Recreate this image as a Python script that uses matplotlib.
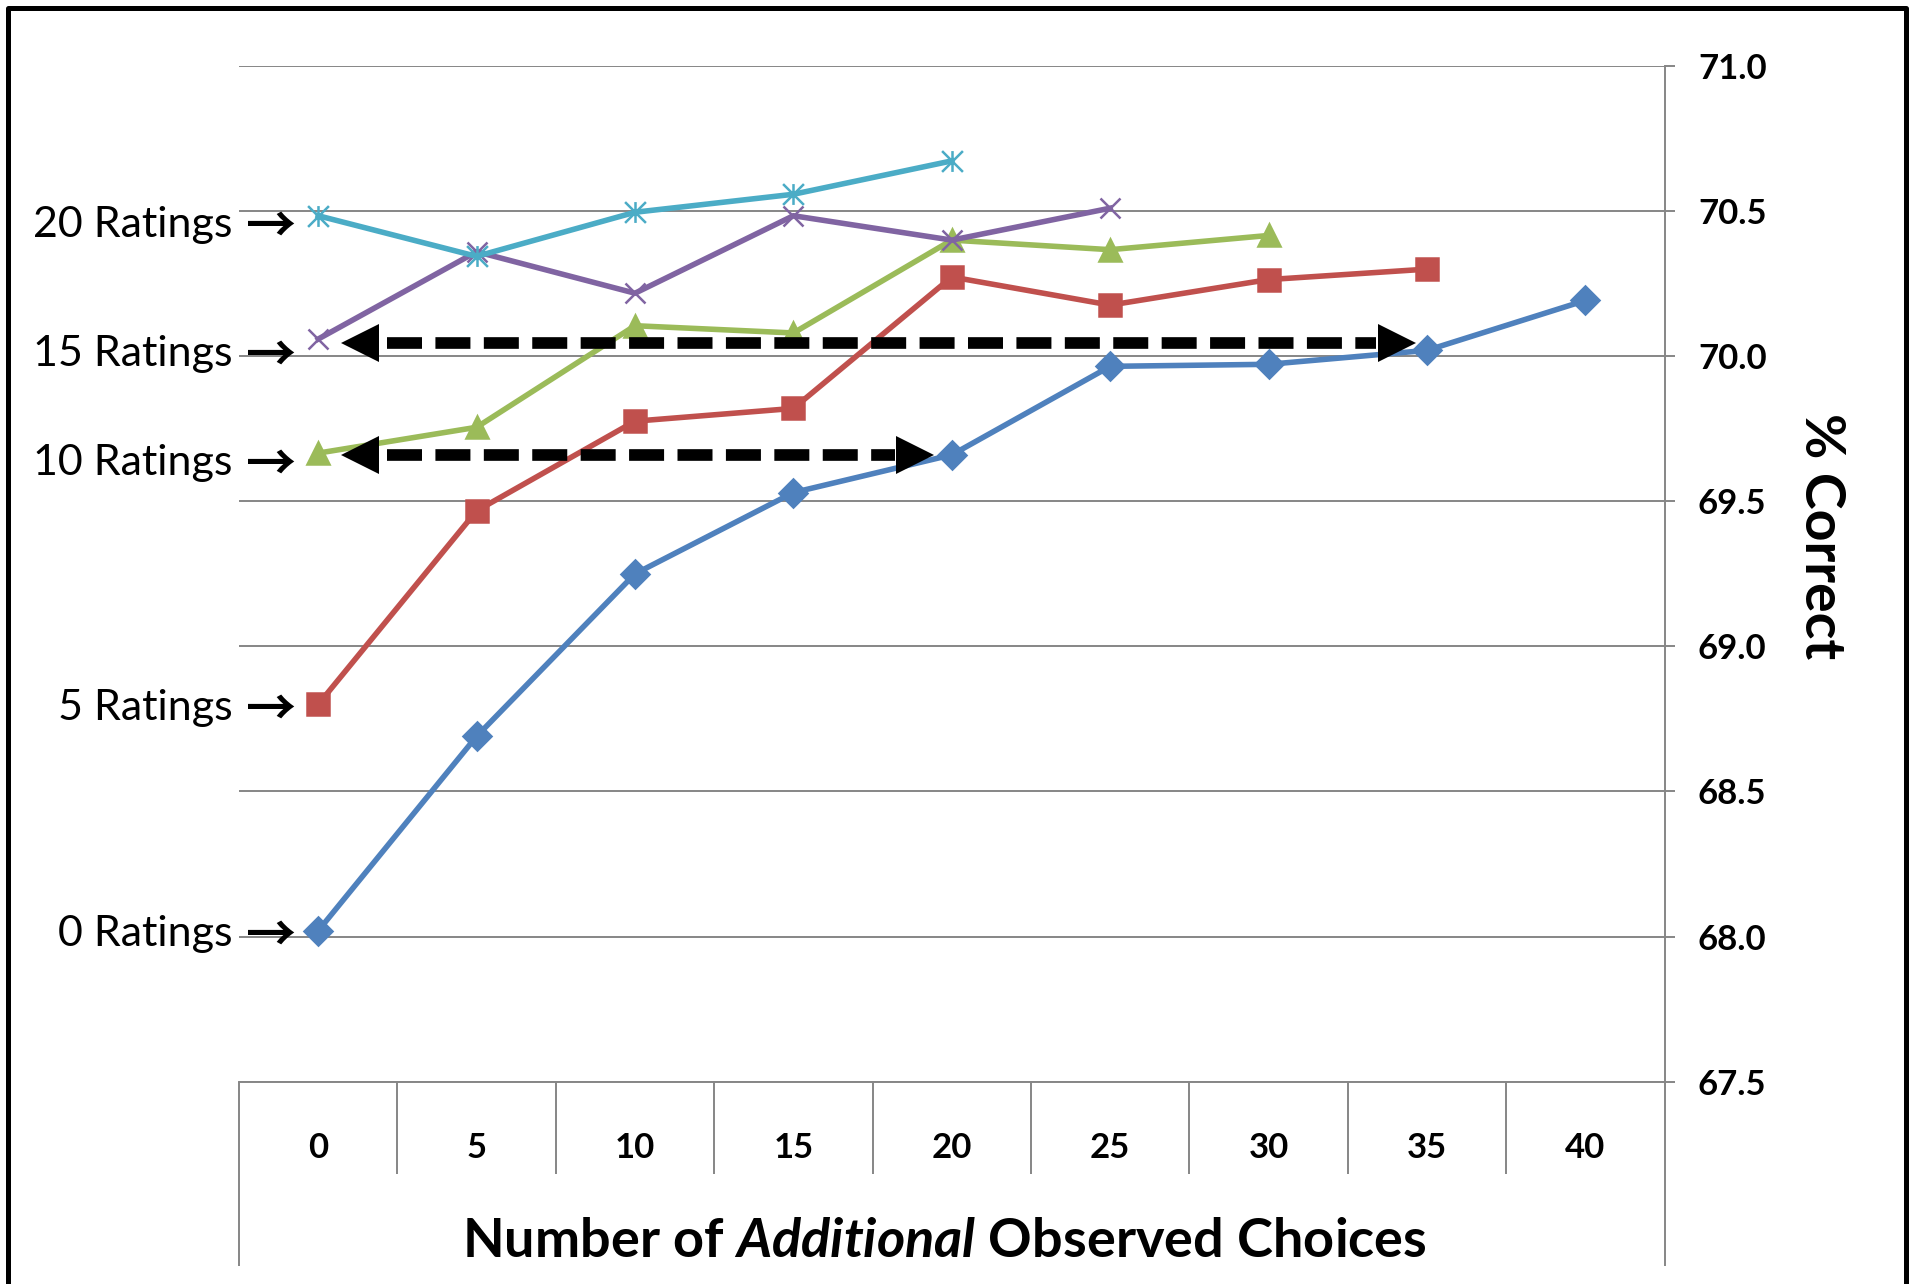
import numpy as np
import matplotlib
matplotlib.use('Agg')
import matplotlib.pyplot as plt
from matplotlib.path import Path
from matplotlib.lines import Line2D

plt.rcParams['font.family'] = ['Lato', 'DejaVu Sans']
plt.rcParams['mathtext.fontset'] = 'custom'
plt.rcParams['mathtext.it'] = 'Lato:italic:bold'
plt.rcParams['mathtext.rm'] = 'Lato:bold'

# number of additional observed choices (categories)
choices = [0, 5, 10, 15, 20, 25, 30, 35, 40]

# % correct for each starting number of ratings
pct_0_ratings = [68.02, 68.69, 69.25, 69.53, 69.66, 69.965, 69.972, 70.02, 70.192]
pct_5_ratings = [68.80, 69.467, 69.776, 69.82, 70.273, 70.176, 70.264, 70.30]
pct_10_ratings = [69.666, 69.755, 70.105, 70.08, 70.40, 70.367, 70.416]
pct_15_ratings = [70.059, 70.36, 70.217, 70.484, 70.40, 70.51]
pct_20_ratings = [70.484, 70.344, 70.496, 70.558, 70.673]

series_labels = ['0 Ratings', '5 Ratings', '10 Ratings', '15 Ratings', '20 Ratings']
series_values = [pct_0_ratings, pct_5_ratings, pct_10_ratings, pct_15_ratings, pct_20_ratings]
# height of the side labels pointing at each series start
label_level = [68.02, 68.80, 69.645, 70.02, 70.465]

# dashed "equivalence" arrows: level and start/end in observed choices
arrow_level = [70.045, 69.66]
arrow_from = [0.78, 0.78]
arrow_to = [34.6, 19.4]

y_ticks = [67.5, 68.0, 68.5, 69.0, 69.5, 70.0, 70.5, 71.0]

# asterisk marker (X with a vertical bar)
asterisk = Path([(-1, -1), (1, 1), (-1, 1), (1, -1), (0, -1), (0, 1)],
                [Path.MOVETO, Path.LINETO] * 3)

colors = ['#4F81BD', '#C0504D', '#9BBB59', '#8064A2', '#4BACC6']
markers = ['D', 's', '^', 'x', asterisk]
msizes = [14, 15.5, 16, 15, 15]
grid_col = '#868686'

fig = plt.figure(figsize=(19.12, 12.84), dpi=100)
ax = fig.add_axes([0.125, 0.1576, 0.7456, 0.7910])

for i in range(len(series_values)):
    vals = series_values[i]
    xs = np.array(choices[:len(vals)]) / 5.0
    ax.plot(xs, vals, color=colors[i], lw=4.0, marker=markers[i], ms=msizes[i],
            mew=1.8, mec=colors[i], mfc=colors[i], zorder=3 + i, clip_on=False)
    ax.text(-0.54, label_level[i], series_labels[i], ha='right', va='center_baseline',
            fontsize=31, clip_on=False)
    ax.text(-0.30, label_level[i], '\u2192', ha='center', va='center_baseline',
            fontsize=36, fontweight='bold', family=['Noto Sans CJK JP', 'DejaVu Sans'],
            clip_on=False)

# arrows: dashed shaft with solid triangle heads
head = 0.22
for y, a, b in zip(arrow_level, arrow_from, arrow_to):
    x0, x1 = a / 5.0, b / 5.0
    ax.plot([x0 + head + 0.06, x1 - head - 0.02], [y, y], color='k', lw=8.4,
            dashes=(3.0, 1.15), solid_capstyle='butt', dash_capstyle='butt', zorder=10)
    ax.plot([x0 + head / 2], [y], marker='<', ms=27, color='k', mew=0, zorder=10)
    ax.plot([x1 - head / 2], [y], marker='>', ms=27, color='k', mew=0, zorder=10)

ax.set_xlim(-0.5, 8.5)
ax.set_ylim(67.5, 71.0)

ax.yaxis.tick_right()
ax.set_yticks(y_ticks)
ax.set_yticklabels(['%.1f' % v for v in y_ticks], fontsize=25, fontweight='bold')
ax.tick_params(axis='y', length=7, width=1.4, color=grid_col, pad=17)
ax.yaxis.grid(True, color=grid_col, lw=1.4)
ax.set_axisbelow(True)

ax.set_xticks(range(len(choices)))
ax.set_xticklabels([str(c) for c in choices], fontsize=25, fontweight='bold')
ax.tick_params(axis='x', length=0, pad=36)

for side in ['top', 'left']:
    ax.spines[side].set_visible(False)
for side in ['right', 'bottom']:
    ax.spines[side].set_color(grid_col)
    ax.spines[side].set_linewidth(1.4)

# category boxes below the plot
trans = ax.get_xaxis_transform()
ax.vlines([k - 0.5 for k in range(1, len(choices))], -0.091, 0, transform=trans,
          colors=grid_col, lw=1.4, clip_on=False)
ax.vlines([-0.5, len(choices) - 0.5], -0.1817, 0, transform=trans,
          colors=grid_col, lw=1.4, clip_on=False)

ax.set_xlabel(r'Number of $\mathit{Additional}$ Observed Choices', fontsize=39,
              fontweight='bold')
ax.xaxis.set_label_coords(0.495, -0.157)
ax.xaxis.label.set_va('center')

fig.text(1821 / 1912, 1 - 536.5 / 1284, '% Correct', rotation=-90, ha='center',
         va='center', fontsize=40, fontweight='bold')

# outer frame, open at the bottom
fx = [8 / 1912, 8 / 1912, 1906 / 1912, 1906 / 1912]
fy = [0, 1 - 8 / 1284, 1 - 8 / 1284, 0]
fig.add_artist(Line2D(fx, fy, transform=fig.transFigure, color='k', lw=3.6))

fig.savefig('out.png', dpi=100)
